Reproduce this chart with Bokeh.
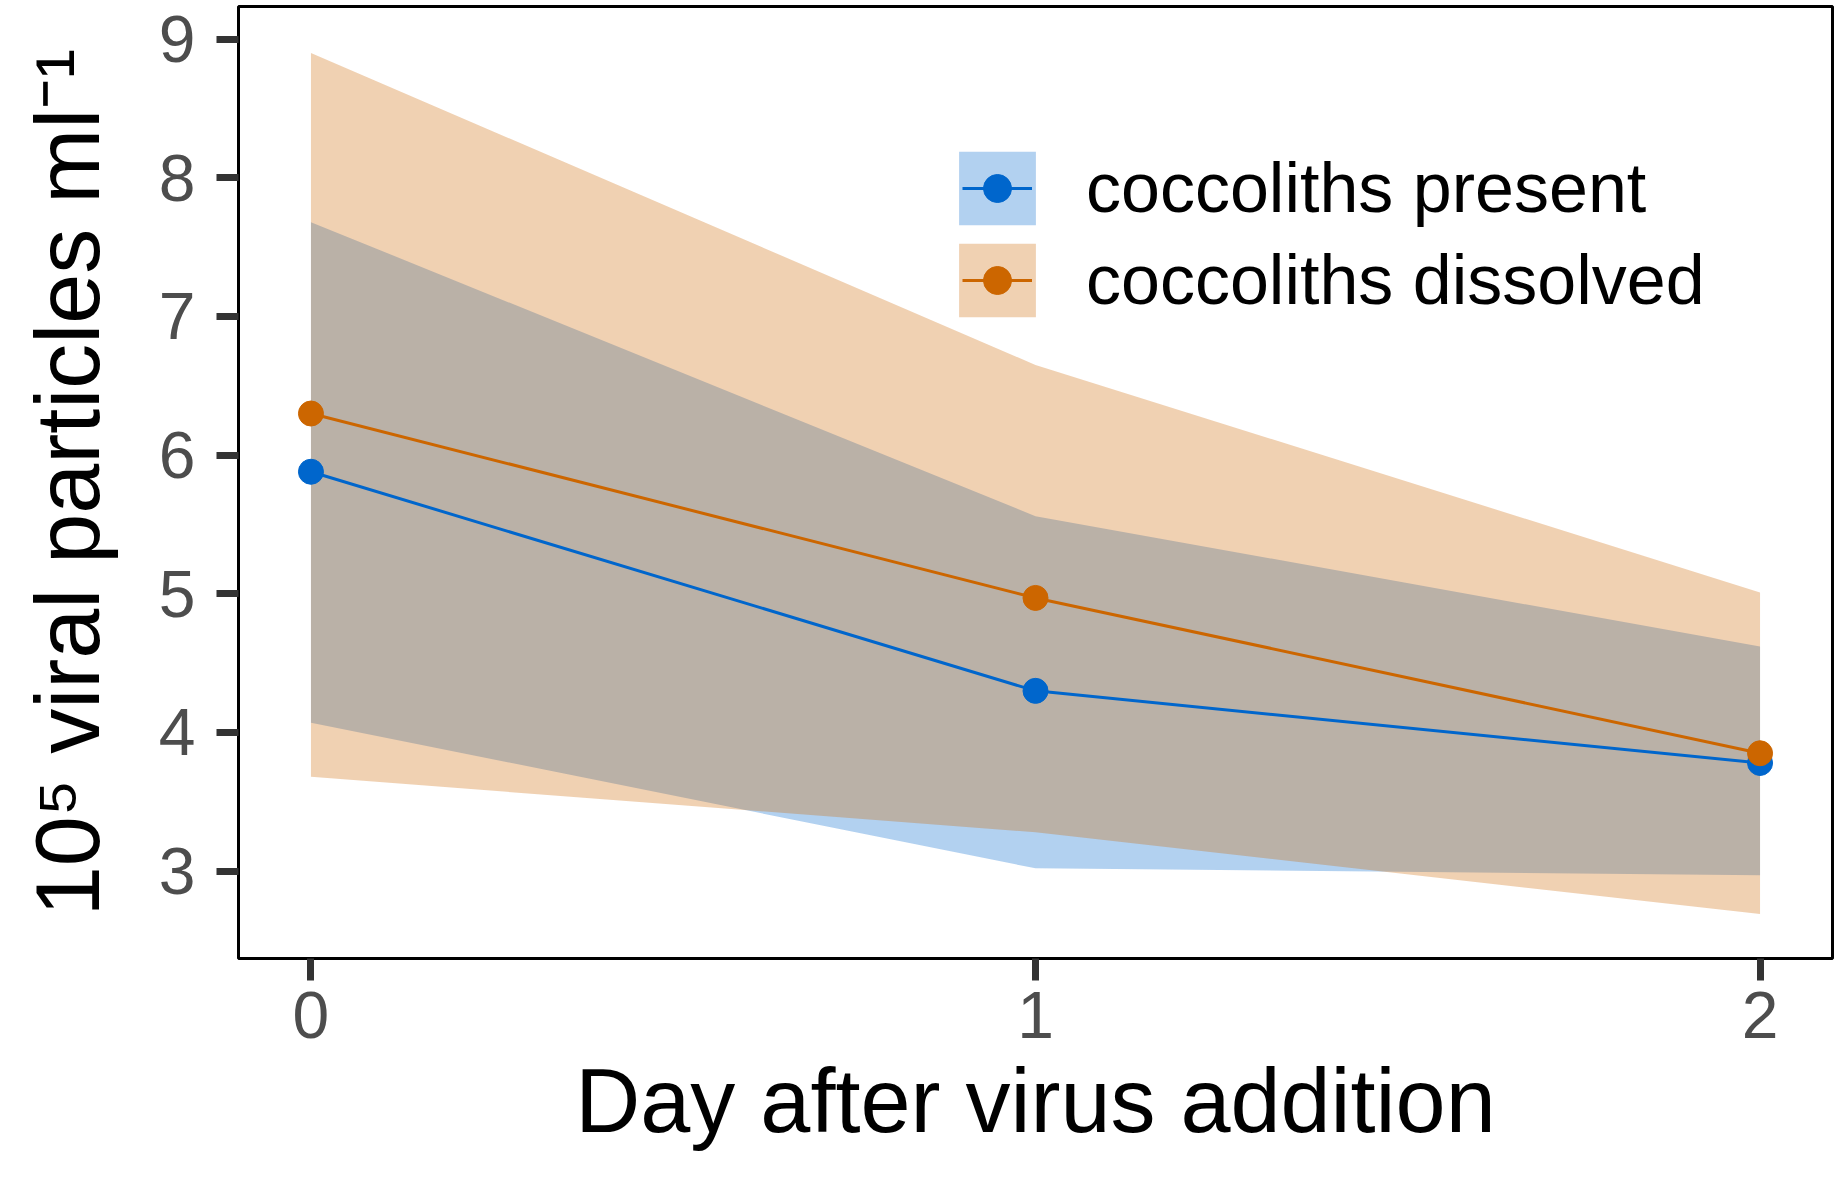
from bokeh.plotting import figure
from bokeh.models import Range1d, FixedTicker, Legend, LegendItem
from bokeh.embed import file_html
from bokeh.resources import INLINE

# ---- data ----
days = [0, 1, 2]
series_names = ["coccoliths present", "coccoliths dissolved"]
present_mean = [5.88, 4.30, 3.78]
present_lower = [4.07, 3.02, 2.97]
present_upper = [7.68, 5.56, 4.62]
dissolved_mean = [6.30, 4.97, 3.85]
dissolved_lower = [3.68, 3.28, 2.69]
dissolved_upper = [8.90, 6.65, 5.01]
x_ticks = [0, 1, 2]
y_ticks = [3, 4, 5, 6, 7, 8, 9]

BLUE = "#0066CC"
ORANGE = "#CC6600"
FONT = "Liberation Sans"

W, H = 1838, 1182
FL, FR, FT, FB = 238, 1832, 6, 958   # frame edges on the page

p = figure(width=W, height=H, output_backend="svg", toolbar_location=None,
           x_range=Range1d(-0.1, 2.1), y_range=Range1d(2.37, 9.235),
           min_border_left=FL, min_border_right=W - FR,
           min_border_top=FT, min_border_bottom=H - FB)
p.background_fill_color = "white"
p.border_fill_color = "white"
p.xgrid.visible = False
p.ygrid.visible = False
p.outline_line_color = "black"
p.outline_line_width = 3
p.outline_line_alpha = 1.0

r_pa = p.varea(x=days, y1=present_lower, y2=present_upper, fill_color=BLUE, fill_alpha=0.3)
r_da = p.varea(x=days, y1=dissolved_lower, y2=dissolved_upper, fill_color=ORANGE, fill_alpha=0.3)
r_pl = p.line(days, present_mean, line_color=BLUE, line_width=3)
r_dl = p.line(days, dissolved_mean, line_color=ORANGE, line_width=3)
r_ps = p.scatter(days, present_mean, size=25, fill_color=BLUE, line_color=BLUE)
r_ds = p.scatter(days, dissolved_mean, size=25, fill_color=ORANGE, line_color=ORANGE)

p.xaxis.ticker = FixedTicker(ticks=x_ticks)
p.yaxis.ticker = FixedTicker(ticks=y_ticks)
for ax in (p.xaxis[0], p.yaxis[0]):
    ax.axis_line_color = None
    ax.major_tick_in = 0
    ax.major_tick_out = 22
    ax.major_tick_line_width = 7
    ax.major_tick_line_color = "#333333"
    ax.minor_tick_line_color = None
    ax.major_label_text_font = FONT
    ax.major_label_text_font_size = "66px"
    ax.major_label_text_color = "#4D4D4D"
    ax.axis_label_text_font = FONT
    ax.axis_label_text_font_size = "90px"
    ax.axis_label_text_font_style = "normal"
    ax.axis_label_text_color = "black"

p.xaxis.axis_label = "Day after virus addition"
p.yaxis.axis_label = "10\u2075 viral particles ml\u207b\u00b9"
p.xaxis.major_label_standoff = 11
p.yaxis.major_label_standoff = 21
p.xaxis.axis_label_standoff = 10
p.yaxis.axis_label_standoff = 38

# legend: filled keys with labels
KEY_CX = 997          # key centre x on the page
LEG_TOP = 142         # legend top on the page
ITEM_H = 92
leg_bottom = LEG_TOP + 2 * ITEM_H

legend = Legend(items=[
    LegendItem(label=series_names[0], renderers=[r_pa]),
    LegendItem(label=series_names[1], renderers=[r_da]),
], location=(KEY_CX - 48 - FL, FB - leg_bottom))
legend.glyph_width = 96
legend.glyph_height = ITEM_H
legend.spacing = 0
legend.padding = 0
legend.margin = 0
legend.label_standoff = 41
legend.label_text_font = FONT
legend.label_text_font_size = "70px"
legend.label_text_color = "black"
legend.border_line_color = None
legend.background_fill_alpha = 0
p.add_layout(legend)

# legend overlay: line + point on the keys
legend2 = Legend(items=[
    LegendItem(label=" ", renderers=[r_pl, r_ps]),
    LegendItem(label=" ", renderers=[r_dl, r_ds]),
], location=(KEY_CX - 35 - FL, FB - leg_bottom))
legend2.glyph_width = 70
legend2.glyph_height = ITEM_H
legend2.spacing = 0
legend2.padding = 0
legend2.margin = 0
legend2.label_standoff = 0
legend2.label_text_font = FONT
legend2.label_text_font_size = "70px"
legend2.label_text_alpha = 0
legend2.border_line_color = None
legend2.background_fill_alpha = 0
p.add_layout(legend2)

open("out.html", "w").write(file_html(p, INLINE))
